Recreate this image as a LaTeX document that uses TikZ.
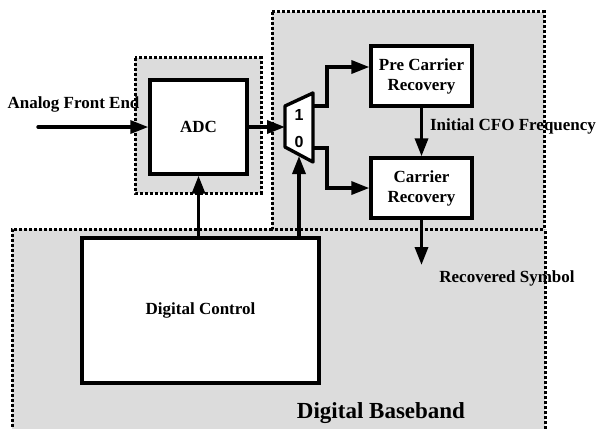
\documentclass[tikz,border=0pt]{standalone}
\usepackage{fontspec}
\setmainfont{Liberation Serif}
\newfontfamily\digitfont{Liberation Sans}
\usetikzlibrary{arrows.meta,calc}
\definecolor{regiongray}{RGB}{220,220,220}
\tikzset{
  region/.style={fill=regiongray},
  regionedge/.style={draw=black,line width=3pt,dash pattern=on 3.2pt off 1.8pt},
  block/.style={draw=black,fill=white,line width=3.4pt,inner sep=0pt,
    font=\fontsize{17}{20}\selectfont\bfseries,align=center},
  wire/.style={line width=3.4pt,-{Triangle[length=18pt,width=13pt]}},
  lbl/.style={font=\fontsize{17}{20}\selectfont\bfseries,inner sep=0pt,anchor=base},
}
\begin{document}
\begin{tikzpicture}[x=1pt,y=-1pt]
\useasboundingbox (0,0) rectangle (599,428);
\clip (0,0) rectangle (599,428);

% shaded regions
\fill[region] (12,229) rectangle (545,445);
\fill[region] (272,12) rectangle (544,229);
\fill[region] (135,58) rectangle (261,193);
\draw[regionedge] (272,229) -- (12,229) -- (12,445) -- (545,445) -- (545,229);
\draw[regionedge] (272,12) rectangle (544,229);
\draw[regionedge] (135,58) rectangle (261,193);

% blocks
\node[block,minimum width=97pt,minimum height=94pt] (adc) at (198.5,127) {ADC};
\node[block,minimum width=101pt,minimum height=60pt] (pre) at (421.5,76) {Pre Carrier\\Recovery};
\node[block,minimum width=101pt,minimum height=60pt] (cr) at (421.5,188) {Carrier\\Recovery};
\node[block,minimum width=237pt,minimum height=145pt] (dc) at (200.5,310.5) {Digital Control};

% multiplexer
\coordinate (muxin) at (285,127);
\coordinate (mux1) at (313,106);
\coordinate (mux0) at (313,148);
\coordinate (muxsel) at (299,156);
\draw[line width=3.4pt,fill=white,line join=round] (285,106) -- (313,93) -- (313,162) -- (285,147) -- cycle;
\node[font=\digitfont\fontsize{16}{16}\selectfont\bfseries,inner sep=0pt] (one) at (299,115) {1};
\node[font=\digitfont\fontsize{16}{16}\selectfont\bfseries,inner sep=0pt] (zero) at (299,142) {0};

% labels
\node[lbl] (afe) at (73.5,108) {Analog Front End};
\node[lbl] (cfo) at (513,130) {Initial CFO Frequency};
\node[lbl] (rsym) at (507,282) {Recovered Symbol};
\node[lbl,font=\fontsize{23}{26}\selectfont\bfseries] (dbb) at (381,418) {Digital Baseband};

% connections
\coordinate (afein) at (38,127);
\coordinate (rsout) at (421.5,265);
\draw[wire,line cap=round] (afein) -- (adc.west);
\draw[wire] (adc.east) -- (muxin);
\draw[wire] (mux1) -- ++(14,0) |- ([yshift=9pt]pre.west);
\draw[wire] (mux0) -- ++(14,0) |- (cr.west);
\draw[wire] (pre.south) -- (cr.north);
\draw[wire] (cr.south) -- (rsout);
\draw[wire] (dc.north -| adc.south) -- (adc.south);
\draw[wire] (dc.north -| muxsel) -- (muxsel);
\end{tikzpicture}
\end{document}
